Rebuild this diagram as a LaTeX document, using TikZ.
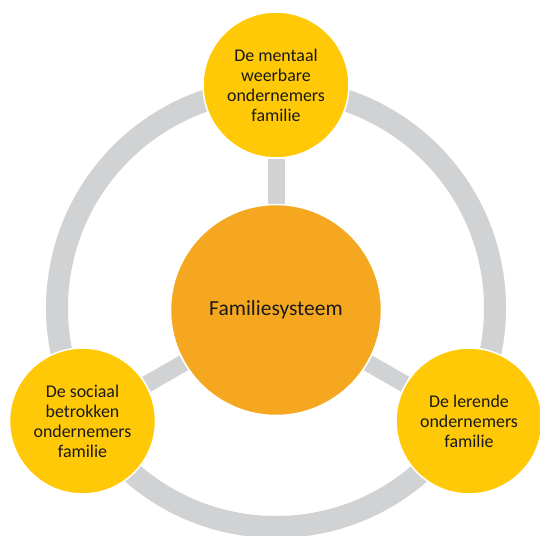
\documentclass[tikz,border=0pt]{standalone}
\usepackage{fontspec}
\setmainfont{Carlito}
\usetikzlibrary{backgrounds}
\definecolor{ringgrey}{HTML}{D1D2D4}
\definecolor{sunyellow}{HTML}{FFC907}
\definecolor{coreorange}{HTML}{F5A81F}
\definecolor{txtdark}{HTML}{1A1A1A}
\begin{document}
\begin{tikzpicture}[x=1pt,y=-1pt,
  ringline/.style={draw=ringgrey,line width=22pt},
  spoke/.style={draw=ringgrey,line width=17pt},
  member/.style={circle,fill=sunyellow,draw=white,line width=1.5pt,minimum size=146pt,inner sep=0pt,
    align=center,text=txtdark,font=\fontsize{17.9}{20}\selectfont},
  core/.style={circle,fill=coreorange,draw=white,line width=1.5pt,minimum size=211pt,inner sep=0pt,
    align=center,text=txtdark,font=\fontsize{21.5}{24}\selectfont}]
\useasboundingbox (0,0) rectangle (540,535);
\node[core] (c) at (276,310) {Familiesysteem};
\node[member] (t) at (276,85) {De mentaal\\weerbare\\ondernemers\\familie};
\node[member] (l) at (82.5,421) {De sociaal\\betrokken\\ondernemers\\familie};
\node[member] (r) at (469,421) {De lerende\\ondernemers\\familie};
\begin{scope}[on background layer]
\coordinate (ringc) at (276,308);
\draw[ringline] (ringc) circle[radius=219];
\draw[spoke] (c) -- (t);
\draw[spoke] (c) -- (l);
\draw[spoke] (c) -- (r);
\end{scope}
\end{tikzpicture}
\end{document}
